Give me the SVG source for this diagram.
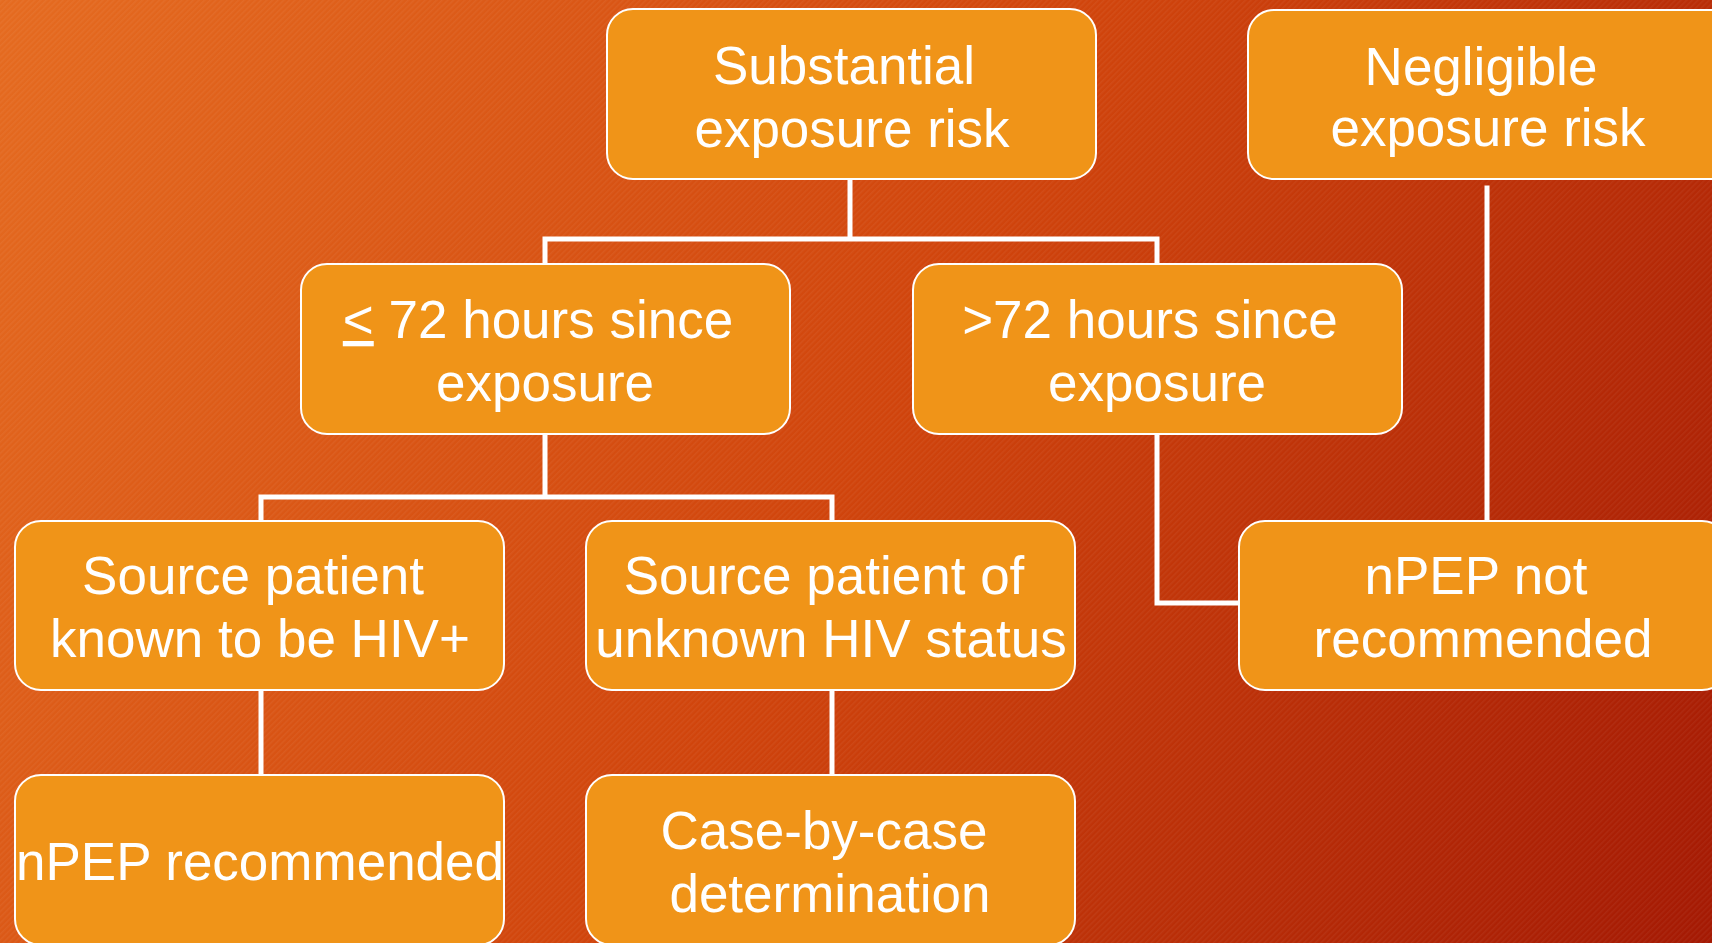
<svg xmlns="http://www.w3.org/2000/svg" width="1712" height="943" viewBox="0 0 1712 943">
<defs>
<linearGradient id="bg" x1="0" y1="0" x2="1712" y2="943" gradientUnits="userSpaceOnUse">
<stop offset="0" stop-color="#E56B20"/>
<stop offset="0.5" stop-color="#D0440C"/>
<stop offset="1" stop-color="#A41903"/>
</linearGradient>
<pattern id="hatch" width="4" height="4" patternUnits="userSpaceOnUse" patternTransform="rotate(45)">
<rect width="1.5" height="4" fill="#ffffff" opacity="0.05"/>
</pattern>
<style>
.box{fill:#F09418;stroke:#FFFFFF;stroke-width:2}
.t{font-family:"Liberation Sans",Arial,sans-serif;font-size:53px;fill:#FFFFFF;text-anchor:middle}
.c{fill:none;stroke:#FFFFFF;stroke-width:5;stroke-linecap:square}
</style>
</defs>
<rect width="1712" height="943" fill="url(#bg)"/>
<rect width="1712" height="943" fill="url(#hatch)"/>
<g id="connectors">
<path class="c" d="M850 179 V239 M545 264 V239 H1157 V264"/>
<path class="c" d="M545 434 V497 M261 521 V497 H832 V521"/>
<path class="c" d="M1157 434 V603 H1239"/>
<path class="c" d="M1487 188 V521"/>
<path class="c" d="M261 690 V775"/>
<path class="c" d="M832 690 V775"/>
</g>
<g id="n-substantial">
<rect class="box" x="607" y="9" width="489" height="170" rx="26"/>
<text class="t" x="844" y="84">Substantial</text>
<text class="t" x="852" y="147">exposure risk</text>
</g>
<g id="n-negligible">
<rect class="box" x="1248" y="10" width="489" height="169" rx="26"/>
<text class="t" x="1481" y="85">Negligible</text>
<text class="t" x="1488" y="146">exposure risk</text>
</g>
<g id="n-le72">
<rect class="box" x="301" y="264" width="489" height="170" rx="26"/>
<text class="t" x="538" y="338"><tspan text-decoration="underline">&lt;</tspan> 72 hours since</text>
<text class="t" x="545" y="401">exposure</text>
</g>
<g id="n-gt72">
<rect class="box" x="913" y="264" width="489" height="170" rx="26"/>
<text class="t" x="1150" y="338">&gt;72 hours since</text>
<text class="t" x="1157" y="401">exposure</text>
</g>
<g id="n-known">
<rect class="box" x="15" y="521" width="489" height="169" rx="26"/>
<text class="t" x="253" y="594">Source patient</text>
<text class="t" x="260" y="657">known to be HIV+</text>
</g>
<g id="n-unknown">
<rect class="box" x="586" y="521" width="489" height="169" rx="26"/>
<text class="t" x="824" y="594">Source patient of</text>
<text class="t" x="831" y="657">unknown HIV status</text>
</g>
<g id="n-notrec">
<rect class="box" x="1239" y="521" width="489" height="169" rx="26"/>
<text class="t" x="1476" y="594">nPEP not</text>
<text class="t" x="1483" y="657">recommended</text>
</g>
<g id="n-rec">
<rect class="box" x="15" y="775" width="489" height="170" rx="26"/>
<text class="t" x="260" y="880">nPEP recommended</text>
</g>
<g id="n-case">
<rect class="box" x="586" y="775" width="489" height="170" rx="26"/>
<text class="t" x="824" y="849">Case-by-case</text>
<text class="t" x="830" y="912">determination</text>
</g>
</svg>
